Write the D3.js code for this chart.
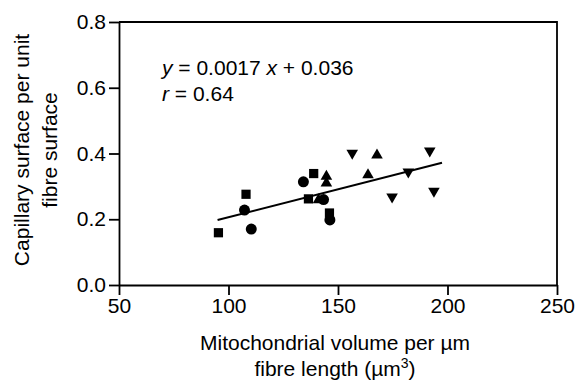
<!DOCTYPE html>
<html>
<head>
<meta charset="utf-8">
<script src="https://cdn.jsdelivr.net/npm/d3@7"></script>
<style>
  html, body { margin: 0; padding: 0; background: #fff; }
  svg { display: block; font-family: "Liberation Sans", Arial, Helvetica, sans-serif; }
</style>
</head>
<body>
<svg id="chart" width="579" height="380"></svg>
<script>
// Mitochondrial volume (µm³ per µm fibre length) vs capillary/fibre surface ratio
const squaresX   = [95.4, 108.0, 138.9, 136.5, 146.1];
const squaresY   = [0.159, 0.276, 0.339, 0.262, 0.219];
const circlesX   = [107.3, 110.4, 134.2, 143.4, 146.3];
const circlesY   = [0.228, 0.170, 0.314, 0.260, 0.198];
const trianglesX = [144.7, 144.7, 141.1, 163.7, 167.8];
const trianglesY = [0.330, 0.310, 0.259, 0.335, 0.395];
const invTrianglesX = [156.5, 182.1, 174.7, 191.9, 193.8];
const invTrianglesY = [0.401, 0.344, 0.268, 0.408, 0.286];

// Regression y = 0.0017 x + 0.036 over the sampled range
const slope = 0.0017;
const intercept = 0.036;
const fitRange = [95, 197.5];

const xTicks = [50, 100, 150, 200, 250];
const yTicks = [0.0, 0.2, 0.4, 0.6, 0.8];

const svg = d3.select("#chart");
const mLeft = 119, mRight = 557, mTop = 22, mBottom = 285;

const x = d3.scaleLinear().domain([50, 250]).range([mLeft, mRight]);
const y = d3.scaleLinear().domain([0, 0.8]).range([mBottom, mTop]);

const fontSize = 21;

// frame: top and right edges
svg.append("path")
  .attr("d", `M${mLeft},${mTop}H${mRight}V${mBottom}`)
  .attr("fill", "none").attr("stroke", "#000").attr("stroke-width", 1.8);

const xAxis = svg.append("g")
  .attr("transform", `translate(0,${mBottom})`)
  .call(d3.axisBottom(x).tickValues(xTicks).tickFormat(d3.format("d")).tickSize(10).tickSizeOuter(0).tickPadding(3));
const yAxis = svg.append("g")
  .attr("transform", `translate(${mLeft},0)`)
  .call(d3.axisLeft(y).tickValues(yTicks).tickFormat(d3.format(".1f")).tickSize(10).tickSizeOuter(0).tickPadding(3));

[xAxis, yAxis].forEach(g => {
  g.select(".domain").attr("stroke-width", 1.8);
  g.selectAll(".tick line").attr("stroke-width", 1.8);
  g.selectAll(".tick text").attr("font-size", fontSize).attr("font-family", "Liberation Sans, Arial, sans-serif").attr("fill", "#000");
});

// regression line
svg.append("line")
  .attr("x1", x(fitRange[0])).attr("y1", y(slope * fitRange[0] + intercept))
  .attr("x2", x(fitRange[1])).attr("y2", y(slope * fitRange[1] + intercept))
  .attr("stroke", "#000").attr("stroke-width", 2);

function plot(xs, ys, type, size, rot) {
  svg.append("g").selectAll("path")
    .data(xs.map((v, i) => [v, ys[i]]))
    .join("path")
    .attr("d", d3.symbol().type(type).size(size))
    .attr("transform", d => `translate(${x(d[0])},${y(d[1])}) rotate(${rot})`)
    .attr("fill", "#000");
}
plot(squaresX, squaresY, d3.symbolSquare, 85, 0);
plot(circlesX, circlesY, d3.symbolCircle, 95, 0);
plot(trianglesX, trianglesY, d3.symbolTriangle, 58, 0);
plot(invTrianglesX, invTrianglesY, d3.symbolTriangle, 58, 180);

// equation and correlation coefficient
const eq = svg.append("text").attr("x", 162).attr("y", 75).attr("font-size", fontSize);
eq.append("tspan").attr("font-style", "italic").text("y");
eq.append("tspan").text(" = 0.0017 ");
eq.append("tspan").attr("font-style", "italic").text("x");
eq.append("tspan").text(" + 0.036");
const rr = svg.append("text").attr("x", 162).attr("y", 101).attr("font-size", fontSize);
rr.append("tspan").attr("font-style", "italic").text("r");
rr.append("tspan").text(" = 0.64");

// axis titles
const xt = svg.append("text").attr("text-anchor", "middle").attr("font-size", fontSize);
xt.append("tspan").attr("x", 335).attr("y", 350).text("Mitochondrial volume per µm");
const l2 = xt.append("tspan").attr("x", 335).attr("y", 376).text("fibre length (µm");
l2.append("tspan").attr("dy", -8).attr("font-size", 14).text("3");
l2.append("tspan").attr("dy", 8).text(")");

const yt = svg.append("g").attr("transform", `translate(0,150) rotate(-90)`)
  .append("text").attr("text-anchor", "middle").attr("font-size", fontSize);
yt.append("tspan").attr("x", 0).attr("y", 29).text("Capillary surface per unit");
yt.append("tspan").attr("x", 0).attr("y", 57).text("fibre surface");
</script>
</body>
</html>
